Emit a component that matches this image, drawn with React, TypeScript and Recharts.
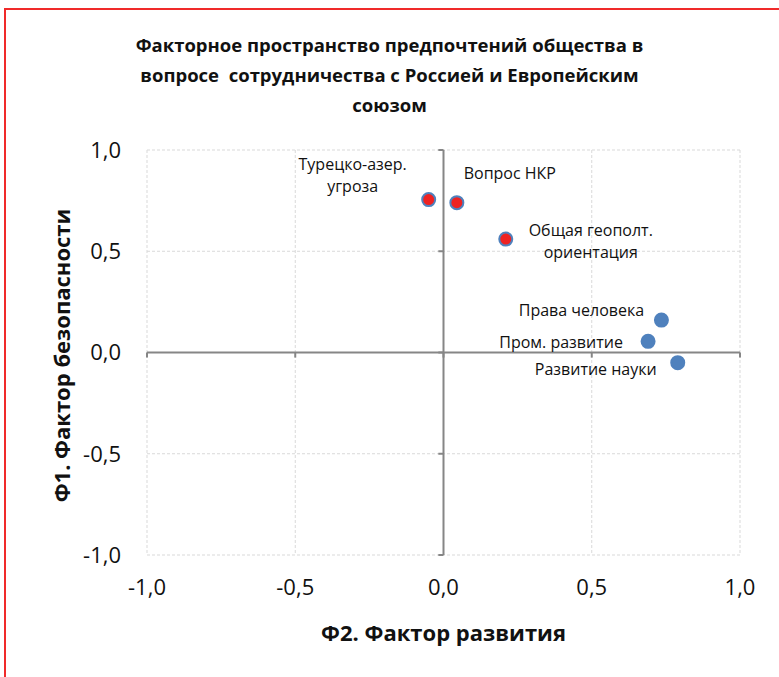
import React from "react";
import {
  ScatterChart,
  Scatter,
  XAxis,
  YAxis,
  CartesianGrid,
  ReferenceLine,
  Label
} from "recharts";

// Values
const securityItems = ["Турецко-азер. угроза", "Вопрос НКР", "Общая геополт. ориентация"];
const securityX = [-0.05, 0.045, 0.21];
const securityY = [0.755, 0.74, 0.56];

const developmentItems = ["Права человека", "Пром. развитие", "Развитие науки"];
const developmentX = [0.735, 0.69, 0.79];
const developmentY = [0.16, 0.055, -0.05];

const axisTicks = [-1, -0.5, 0, 0.5, 1];

const titleLines = [
  "Факторное пространство предпочтений общества в",
  "вопросе  сотрудничества с Россией и Европейским",
  "союзом"
];
const xTitle = "Ф2. Фактор развития";
const yTitle = "Ф1. Фактор безопасности";

const securityData = securityItems.map((name, i) => ({ name, x: securityX[i], y: securityY[i] }));
const developmentData = developmentItems.map((name, i) => ({ name, x: developmentX[i], y: developmentY[i] }));

// label placement relative to the marker (pixels)
const labelLayout: { [name: string]: { dx: number; dy: number; wrap?: boolean } } = {
  "Турецко-азер. угроза": { dx: -76, dy: -36, wrap: true },
  "Вопрос НКР": { dx: 53, dy: -30 },
  "Общая геополт. ориентация": { dx: 85, dy: -9, wrap: true },
  "Права человека": { dx: -80, dy: -10 },
  "Пром. развитие": { dx: -87, dy: 1 },
  "Развитие науки": { dx: -82, dy: 6 }
};

const FONT = "'Open Sans', 'DejaVu Sans', sans-serif";
const TEXT = "#111";
const AXIS = "#868686";

const fmt = (v: number) => (Math.abs(v) < 1e-9 ? 0 : v).toFixed(1).replace(".", ",");

const makeShape = (fill: string, stroke: string, r: number) => (props: any) => {
  const { cx, cy, payload } = props;
  const name: string = payload.name;
  const lay = labelLayout[name] || { dx: 0, dy: -15 };
  const lines = lay.wrap ? name.replace(". ", ".\n").split("\n") : [name];
  return (
    <g>
      <circle cx={cx} cy={cy} r={r} fill={fill} stroke={stroke} strokeWidth={2} />
      {lines.map((line, i) => (
        <text
          key={i}
          x={cx + lay.dx}
          y={cy + lay.dy + i * 22}
          textAnchor="middle"
          dominantBaseline="central"
          fontFamily={FONT}
          fontSize={16}
          fill={TEXT}
        >
          {line}
        </text>
      ))}
    </g>
  );
};

const tickLen = 0.025;

export default function App() {
  return (
    <div style={{ position: "absolute", left: 0, top: 0, width: 779, height: 677, overflow: "hidden", background: "#fff" }}>
      <div
        style={{
          position: "absolute",
          left: 4,
          top: 8,
          width: 820,
          height: 720,
          border: "2px solid #f02a2a"
        }}
      />
      <div
        style={{
          position: "absolute",
          left: 0,
          top: 30,
          width: 779,
          textAlign: "center",
          fontFamily: FONT,
          fontWeight: 700,
          fontSize: 18.5,
          lineHeight: "30px",
          color: TEXT
        }}
      >
        {titleLines.map((l, i) => (
          <div key={i} style={{ whiteSpace: "pre" }}>{l}</div>
        ))}
      </div>
      <div style={{ position: "absolute", left: 0, top: 0 }}>
        <ScatterChart
          width={779}
          height={677}
          margin={{ top: 150, right: 39, left: 87, bottom: 82 }}
        >
          <CartesianGrid stroke="#d9d9d9" strokeDasharray="3 2" />
          <XAxis
            type="number"
            dataKey="x"
            domain={[-1, 1]}
            ticks={axisTicks}
            tickFormatter={fmt}
            axisLine={false}
            tickLine={false}
            tickSize={0}
            tickMargin={24}
            height={40}
            tick={{ fontFamily: FONT, fontSize: 22, fill: TEXT }}
          >
            <Label
              content={({ viewBox }: any) => (
                <text
                  x={viewBox.x + viewBox.width / 2}
                  y={632}
                  textAnchor="middle"
                  dominantBaseline="central"
                  fontFamily={FONT}
                  fontWeight={700}
                  fontSize={22}
                  fill={TEXT}
                >
                  {xTitle}
                </text>
              )}
            />
          </XAxis>
          <YAxis
            type="number"
            dataKey="y"
            domain={[-1, 1]}
            ticks={axisTicks}
            tickFormatter={fmt}
            axisLine={false}
            tickLine={false}
            tickSize={0}
            tickMargin={26}
            width={60}
            tick={{ fontFamily: FONT, fontSize: 22, fill: TEXT }}
          >
            <Label
              content={({ viewBox }: any) => {
                const cx = 61;
                const cy = viewBox.y + viewBox.height / 2 + 3;
                return (
                  <text
                    x={cx}
                    y={cy}
                    transform={`rotate(-90 ${cx} ${cy})`}
                    textAnchor="middle"
                    dominantBaseline="central"
                    fontFamily={FONT}
                    fontWeight={700}
                    fontSize={22}
                    fill={TEXT}
                  >
                    {yTitle}
                  </text>
                );
              }}
            />
          </YAxis>
          <ReferenceLine x={0} stroke={AXIS} strokeWidth={2} />
          <ReferenceLine y={0} stroke={AXIS} strokeWidth={2} />
          {axisTicks.map((v) => (
            <ReferenceLine
              key={"xt" + v}
              segment={[{ x: v, y: 0 }, { x: v, y: -tickLen }]}
              stroke={AXIS}
              strokeWidth={2}
            />
          ))}
          {axisTicks.map((v) => (
            <ReferenceLine
              key={"yt" + v}
              segment={[{ x: 0, y: v }, { x: -tickLen * 0.7, y: v }]}
              stroke={AXIS}
              strokeWidth={2}
            />
          ))}
          <Scatter
            data={securityData}
            isAnimationActive={false}
            shape={makeShape("#ee2222", "#4f81bd", 6.5)}
          />
          <Scatter
            data={developmentData}
            isAnimationActive={false}
            shape={makeShape("#4f81bd", "#4f81bd", 6.5)}
          />
        </ScatterChart>
      </div>
    </div>
  );
}
